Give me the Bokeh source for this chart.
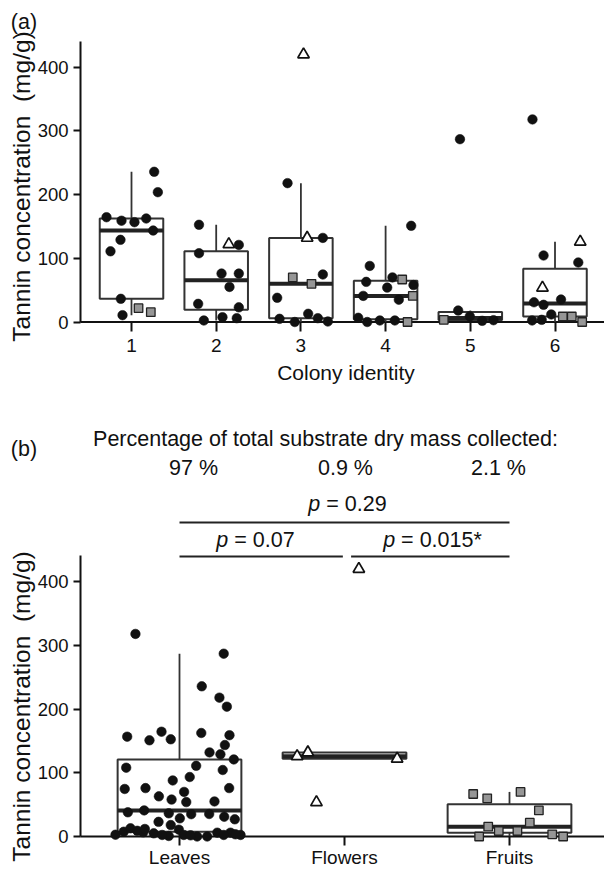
import math
import numpy as np
from bokeh.plotting import figure
from bokeh.layouts import column
from bokeh.models import Range1d, FixedTicker, Label
from bokeh.embed import file_html
from bokeh.resources import INLINE

# ---------------- data ----------------
colonies = [1, 2, 3, 4, 5, 6]
substrates = ["Leaves", "Flowers", "Fruits"]
y_ticks = [0, 100, 200, 300, 400]
mass_pct = ["97 %", "0.9 %", "2.1 %"]
p_values = ["0.29", "0.07", "0.015*"]
p_pairs = [(1, 3), (1, 2), (2, 3)]

leaf_colony = [1] * 11 + [2] * 11 + [3] * 9 + [4] * 12 + [5] * 5 + [6] * 9
leaf_value = [164.5, 159, 156.7, 162.5, 143.6, 129, 111, 235.8, 203.8, 36.4, 10.7,
              152.6, 108, 121, 76, 76, 55, 28.5, 23, 2.4, 7.5, 6,
              218, 132, 74.6, 38, 5, 0, 12.9, 6, 0.8,
              151, 88, 63, 70, 54, 58, 41, 35, 6.6, 0, 2.4, 2.4,
              18, 9, 1.8, 2.8, 287,
              104.4, 93.4, 31, 27, 35.3, 11.8, 2.4, 3.4, 318]
leaf_jit_a = [-0.295, -0.118, 0.035, 0.174, 0.256, -0.130, -0.248, 0.268, 0.311, -0.126, -0.106,
              -0.203, -0.203, 0.267, 0.063, 0.267, 0.157, -0.213, 0.267, -0.146, 0.074, 0.243,
              -0.158, 0.259, 0.259, -0.280, -0.252, -0.072, 0.086, 0.200, 0.318,
              0.302, -0.187, -0.229, 0.081, 0.019, 0.329, -0.264, 0.156, -0.323, -0.217, -0.068, 0.109,
              -0.143, -0.006, 0.140, 0.274, -0.122,
              -0.135, 0.275, -0.248, -0.135, 0.071, -0.044, -0.270, -0.157, -0.266]
leaf_jit_b = [-0.109, 0.303, -0.317, 0.132, 0.275, 0.248, 0.101, 0.135, 0.287, -0.065, -0.004,
              -0.053, -0.323, 0.329, 0.301, -0.206, 0.212, 0.002, -0.127, 0.026, -0.338, 0.229,
              0.242, 0.182, -0.332, -0.313, -0.156, 0.107, -0.297, 0.309, -0.065,
              -0.182, -0.041, -0.125, 0.028, 0.041, -0.048, -0.214, 0.071, -0.220, 0.168, -0.105, 0.370,
              -0.053, -0.256, 0.067, -0.388, 0.268,
              0.262, 0.062, 0.271, 0.335, 0.180, -0.210, 0.268, 0.339, -0.267]

flower_colony = [2, 3, 3, 6, 6]
flower_value = [122, 132, 420, 53.7, 126]
flower_jit_a = [0.149, 0.074, 0.031, -0.148, 0.298]
flower_jit_b = [0.319, -0.222, 0.087, -0.170, -0.287]

fruit_colony = [1, 1, 3, 3, 4, 4, 4, 5, 6, 6, 6]
fruit_value = [21.7, 15.4, 70, 60, 66.7, 41, 0, 3.4, 8.6, 8.6, 0]
fruit_jit_a = [0.083, 0.228, -0.096, 0.125, 0.196, 0.321, 0.259, -0.313, 0.093, 0.198, 0.321]
fruit_jit_b = [0.123, -0.129, 0.067, -0.135, -0.220, 0.178, -0.184, 0.259, -0.065, 0.048, 0.325]

y_title = "Tannin concentration \u00a0(mg/g)"

# ---------------- style / geometry ----------------
FONT = "Liberation Sans"
TXT = "#111111"
BOX = "#333333"
HALF = 0.375
Y_AXIS_TOP = 441
PXU = 0.637          # pixels per y unit (both panels)
W = 604
AXIS_PX = 80         # y-axis position on the canvas
TICK_FS = "19px"
YTICK_FS = "18.5px"

CW = {"p": 0.556, " ": 0.278, "=": 0.584, "0": 0.556, "1": 0.556, "2": 0.556, "5": 0.556,
      "7": 0.556, "9": 0.556, ".": 0.278, "*": 0.389}


def text_w(s, size):
    return sum(CW.get(c, 0.556) for c in s) * size


def box_stats(vals):
    v = np.asarray(vals, dtype=float)
    q1, med, q3 = np.percentile(v, [25, 50, 75])
    iqr = q3 - q1
    lo = v[v >= q1 - 1.5 * iqr].min()
    hi = v[v <= q3 + 1.5 * iqr].max()
    return q1, med, q3, lo, hi


class Panel:
    """Whole canvas is the frame; axes sit at fixed locations."""

    def __init__(self, height, first_cat_px, unit_px, zero_py, top_py, ticks, standoff):
        self.ux = unit_px
        self.x0 = 1 - first_cat_px / unit_px
        self.zero_py = zero_py
        x1 = self.x0 + W / unit_px
        y1 = self.vy(top_py)
        y0 = self.vy(top_py + height)
        p = figure(width=W, height=height, x_range=Range1d(self.x0, x1), y_range=Range1d(y0, y1),
                   output_backend="svg", toolbar_location=None, min_border=0,
                   min_border_left=0, min_border_right=0, min_border_top=0, min_border_bottom=0,
                   background_fill_color="white", border_fill_color="white")
        p.outline_line_color = None
        p.grid.visible = False
        ax_x = self.vx(AXIS_PX)
        ya = p.yaxis[0]
        ya.fixed_location = ax_x
        ya.ticker = FixedTicker(ticks=y_ticks)
        ya.bounds = (0, Y_AXIS_TOP)
        ya.axis_line_width = 2
        ya.axis_line_color = TXT
        ya.major_tick_out = 7
        ya.major_tick_in = 0
        ya.major_tick_line_width = 2
        ya.major_tick_line_color = TXT
        ya.minor_tick_line_color = None
        ya.major_label_text_font = FONT
        ya.major_label_text_font_size = YTICK_FS
        ya.major_label_text_color = TXT
        ya.major_label_standoff = 5
        xa = p.xaxis[0]
        xa.fixed_location = 0
        xa.ticker = FixedTicker(ticks=ticks)
        xa.axis_line_color = None
        xa.major_tick_in = 0
        xa.major_tick_out = 9
        xa.major_tick_line_width = 2
        xa.major_tick_line_color = TXT
        xa.minor_tick_line_color = None
        xa.major_label_text_font = FONT
        xa.major_label_text_font_size = TICK_FS
        xa.major_label_text_color = TXT
        xa.major_label_standoff = standoff
        # baseline drawn as a glyph, under the marks
        p.segment(x0=[ax_x], y0=[0], x1=[x1], y1=[0], line_color=TXT, line_width=2)
        self.p = p

    def vx(self, px):
        return self.x0 + px / self.ux

    def vy(self, py):
        return (self.zero_py - py) / PXU

    def label(self, px, py, text, size, **kw):
        self.p.add_layout(Label(x=self.vx(px), y=self.vy(py), text=text, text_font=FONT,
                                text_font_size=size, text_color=TXT,
                                text_align=kw.pop("align", "center"),
                                text_baseline=kw.pop("baseline", "middle"), **kw))


def draw_boxes(p, positions, groups):
    st = [box_stats(g) for g in groups]
    pos = np.asarray(positions, dtype=float)
    q1 = [s[0] for s in st]
    med = [s[1] for s in st]
    q3 = [s[2] for s in st]
    lo = [s[3] for s in st]
    hi = [s[4] for s in st]
    p.segment(x0=pos, y0=q3, x1=pos, y1=hi, line_color=BOX, line_width=1.8)
    p.segment(x0=pos, y0=q1, x1=pos, y1=lo, line_color=BOX, line_width=1.8)
    p.quad(left=pos - HALF, right=pos + HALF, bottom=q1, top=q3,
           fill_color="white", line_color=BOX, line_width=2.0)
    p.segment(x0=pos - HALF, y0=med, x1=pos + HALF, y1=med, line_color="#222222", line_width=4.0)


def draw_points(p, xs, ys, kind):
    if kind == "leaf":
        p.scatter(xs, ys, marker="circle", size=9.5, fill_color="#111111", line_color="#111111", line_width=0.6)
    elif kind == "fruit":
        p.scatter(xs, ys, marker="square", size=8.5, fill_color="#969696", line_color="#222222", line_width=1.3)
    else:
        p.scatter(xs, ys, marker="triangle", size=11.5, fill_color="white", line_color="#111111", line_width=1.7)


# ---------------- panel (a) ----------------
A = Panel(height=390, first_cat_px=131, unit_px=84.7, zero_py=321.5, top_py=0,
          ticks=colonies, standoff=8)
pa = A.p
groups_a = []
for c in colonies:
    g = [v for v, cc in zip(leaf_value, leaf_colony) if cc == c]
    g += [v for v, cc in zip(fruit_value, fruit_colony) if cc == c]
    g += [v for v, cc in zip(flower_value, flower_colony) if cc == c]
    groups_a.append(g)
draw_boxes(pa, colonies, groups_a)
draw_points(pa, [c + j for c, j in zip(leaf_colony, leaf_jit_a)], leaf_value, "leaf")
draw_points(pa, [c + j for c, j in zip(fruit_colony, fruit_jit_a)], fruit_value, "fruit")
draw_points(pa, [c + j for c, j in zip(flower_colony, flower_jit_a)], flower_value, "flower")

A.label(23.5, 21.7, "(a)", "21.5px")
A.label(20.5, 186, y_title, "24.5px", angle=math.pi / 2)
A.label(345.5, 372, "Colony identity", "21px")

# ---------------- panel (b) ----------------
sub_pos = [1, 2, 3]
B = Panel(height=483, first_cat_px=179, unit_px=165.0, zero_py=836, top_py=390,
          ticks=sub_pos, standoff=1)
pb = B.p
pb.xaxis[0].major_label_overrides = {k: s for k, s in zip(sub_pos, substrates)}

groups_b = [leaf_value, flower_value, fruit_value]
draw_boxes(pb, sub_pos, groups_b)
draw_points(pb, [1 + j for j in leaf_jit_b], leaf_value, "leaf")
draw_points(pb, [3 + j for j in fruit_jit_b], fruit_value, "fruit")
draw_points(pb, [2 + j for j in flower_jit_b], flower_value, "flower")

B.label(23.5, 448, "(b)", "21.5px")
B.label(20.5, 706, y_title, "24.5px", angle=math.pi / 2)
B.label(325, 438, "Percentage of total substrate dry mass collected:", "21.5px")
for cpx, t in zip([193, 345, 498], mass_pct):
    B.label(cpx, 467, t, "21.5px")

# significance brackets
br_py = [522, 556, 556]
br_trim = [(0.0, 0.0), (0.0, 0.01), (0.04, 0.0)]
txt_center_px = [347, 255, 432]
txt_py = [503, 539, 539]
FS = 21.5
for lvl_py, (g0, g1), (t0, t1), pv, cpx, tpy in zip(br_py, p_pairs, br_trim, p_values, txt_center_px, txt_py):
    lvl = B.vy(lvl_py)
    pb.segment(x0=[g0 + t0], y0=[lvl], x1=[g1 - t1], y1=[lvl], line_color="#222222", line_width=2)
    full = "p = " + pv
    start_px = cpx - text_w(full, FS) / 2
    split_px = start_px + text_w("p", FS)
    B.label(split_px, tpy, "p", "21.5px", align="right", text_font_style="italic")
    B.label(split_px + text_w(" ", FS), tpy, "= " + pv, "21.5px", align="left")

layout = column(pa, pb)
open("out.html", "w").write(file_html(layout, INLINE))
